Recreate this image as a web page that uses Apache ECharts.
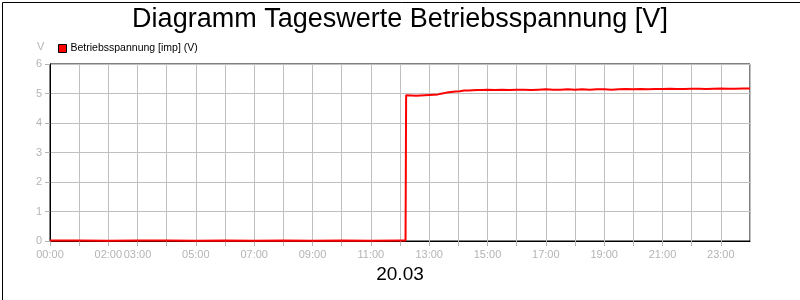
<!DOCTYPE html>
<html>
<head>
<meta charset="utf-8">
<script src="https://cdn.jsdelivr.net/npm/echarts@6/dist/echarts.min.js"></script>
<style>
html,body{margin:0;padding:0;background:#fff;}
#c{width:800px;height:300px;}
</style>
</head>
<body>
<div id="c"></div>
<script>
const titleText = 'Diagramm Tageswerte Betriebsspannung [V]';
const seriesName = 'Betriebsspannung [imp] (V)';
const dateLabel = '20.03';
const unitLabel = 'V';
const xTickLabels = ['00:00','02:00','03:00','05:00','07:00','09:00','11:00','13:00','15:00','17:00','19:00','21:00','23:00'];
const xTickHours = [0,2,3,5,7,9,11,13,15,17,19,21,23];
const hours = [0,1,2,3,4,5,6,7,8,9,10,11,12,12.19,
  12.21,12.4,12.55,12.7,12.85,13.0,13.15,13.3,13.45,13.6,13.75,13.9,14.05,14.2,14.35,14.5,14.65,14.8,15.0,
  15.25,15.5,15.75,16.0,16.25,16.5,16.75,17.0,17.25,17.5,17.75,18.0,18.25,18.5,18.75,19.0,19.25,19.5,19.75,
  20.0,20.25,20.5,20.75,21.0,21.25,21.5,21.75,22.0,22.25,22.5,22.75,23.0,23.25,23.5,23.75,24.0];
const volts = [0.02,0.02,0.01,0.02,0.02,0.01,0.02,0.01,0.02,0.01,0.02,0.01,0.02,0.02,
  4.94,4.93,4.92,4.93,4.94,4.95,4.96,4.97,5.0,5.03,5.05,5.07,5.08,5.1,5.1,5.11,5.12,5.12,5.13,
  5.12,5.13,5.12,5.13,5.13,5.12,5.13,5.14,5.13,5.13,5.14,5.13,5.14,5.13,5.14,5.14,5.13,5.14,5.15,
  5.14,5.15,5.14,5.15,5.15,5.16,5.15,5.15,5.16,5.16,5.15,5.16,5.17,5.16,5.16,5.17,5.17];

const chart = echarts.init(document.getElementById('c'), null, {renderer:'canvas'});
const font = 'Liberation Sans, Arial, sans-serif';
chart.setOption({
  animation:false,
  backgroundColor:'#fff',
  title:{text:titleText,left:'center',top:1,textStyle:{fontFamily:font,fontSize:27,fontWeight:'normal',color:'#000'}},
  legend:{show:true,left:53,top:38,itemWidth:8,itemHeight:8,itemGap:4,icon:'rect',
    textStyle:{fontFamily:font,fontSize:10.5,color:'#000',padding:[0,0,0,-1]},
    itemStyle:{borderColor:'#000',borderWidth:1}},
  grid:{left:50,right:50,top:64,bottom:59,show:true,borderColor:'#000',borderWidth:1,backgroundColor:'#fff'},
  xAxis:{type:'value',min:0,max:24,interval:1,
    axisLine:{show:true,lineStyle:{color:'#000',width:1}},
    axisTick:{show:true,length:5,lineStyle:{color:'#b4b4b4'}},
    splitLine:{show:true,lineStyle:{color:'#c0c0c0',width:1}},
    axisLabel:{color:'#b4b4b4',fontFamily:font,fontSize:11,margin:8,showMinLabel:true,showMaxLabel:false,
      formatter:function(v){const i=xTickHours.indexOf(Math.round(v));return i>=0?xTickLabels[i]:'';}}},
  yAxis:{type:'value',min:0,max:6,interval:1,
    axisLine:{show:true,lineStyle:{color:'#000',width:1}},
    axisTick:{show:true,length:5,lineStyle:{color:'#b4b4b4'}},
    splitLine:{show:true,lineStyle:{color:'#c0c0c0',width:1}},
    axisLabel:{color:'#b4b4b4',fontFamily:font,fontSize:11,margin:8}},
  graphic:[
    {type:'rect',left:0,top:0,shape:{width:799,height:299},style:{fill:'none',stroke:'#000',lineWidth:1},z:-1,silent:true},
    {type:'text',left:37,top:41,style:{text:unitLabel,fontFamily:font,fontSize:11,fill:'#b4b4b4'}},
    {type:'text',left:'center',top:265,style:{text:dateLabel,fontFamily:font,fontSize:19,fill:'#000'}}
  ],
  series:[{name:seriesName,type:'line',showSymbol:false,symbol:'none',
    lineStyle:{color:'#ff0000',width:2},itemStyle:{color:'#ff0000'},
    data:hours.map((h,i)=>[h,volts[i]])}]
});
</script>
</body>
</html>
